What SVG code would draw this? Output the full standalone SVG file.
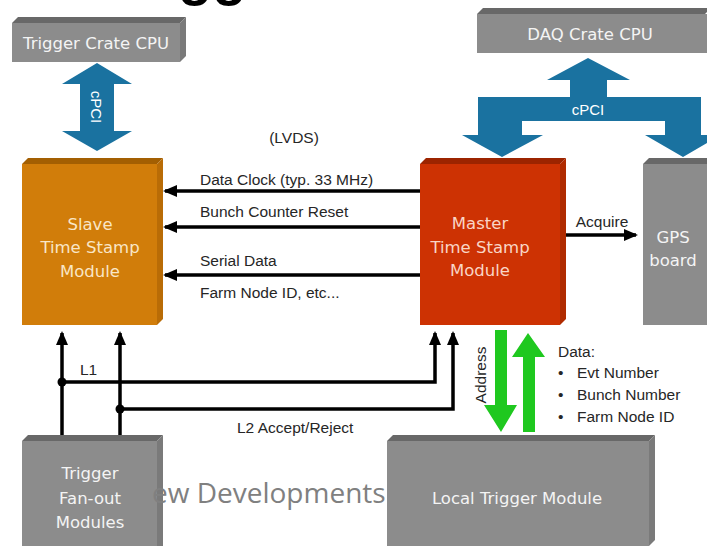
<svg xmlns="http://www.w3.org/2000/svg" width="707" height="546" viewBox="0 0 707 546">
<style>
.gf{fill:#8c8c8c}.gt{fill:#686868}.gs{fill:#7a7a7a}
.of{fill:#d17d0a}.ot{fill:#a35f02}.os{fill:#b96c06}
.rf{fill:#cd3203}.rt{fill:#9c2400}.rs{fill:#b02b00}
.bl{font-family:"DejaVu Sans",Verdana,sans-serif;font-size:16.5px;text-anchor:middle}
.wt{fill:#f4f4f4}.ct{fill:#f9e6c6}.pt{fill:#f9d6c6}
.lb{font-family:"Liberation Sans",Arial,sans-serif;font-size:15.5px;fill:#262626}
.ln{fill:none;stroke:#000;stroke-width:3.5}
.blue{fill:#1a72a0}.green{fill:#1fc81f}
</style>
<defs>
<marker id="ah" markerWidth="14" markerHeight="12" refX="12" refY="6" orient="auto" markerUnits="userSpaceOnUse"><path d="M0,0 L14,6 L0,12 z" fill="#000"/></marker>
</defs>
<text x="178" y="-6" font-family="Liberation Sans,Arial,sans-serif" font-size="56" font-weight="bold" fill="#000">gg</text>

<g id="trigger-crate-cpu">
<polygon class="gt" points="12,23 18,17 186,17 180,23"/>
<polygon class="gs" points="180,23 186,17 186,56 180,62"/>
<rect class="gf" x="12" y="23" width="168" height="39"/>
<text class="bl wt" x="96" y="49" font-size="16">Trigger Crate CPU</text>
</g>

<g id="daq-crate-cpu">
<polygon class="gt" points="477,14 483,8 711,8 705,14"/>
<rect class="gf" x="477" y="14" width="232" height="39"/>
<text class="bl wt" x="590" y="40" font-size="16">DAQ Crate CPU</text>
</g>

<g id="slave-tsm">
<polygon class="ot" points="22,164 28,158 163,158 157,164"/>
<polygon class="os" points="157,164 163,158 163,319 157,325"/>
<rect class="of" x="22" y="164" width="135" height="161"/>
<text class="bl ct" x="90" y="230">Slave</text>
<text class="bl ct" x="90" y="253">Time Stamp</text>
<text class="bl ct" x="90" y="277">Module</text>
</g>

<g id="master-tsm">
<polygon class="rt" points="420,164 426,158 566,158 560,164"/>
<polygon class="rs" points="560,164 566,158 566,319 560,325"/>
<rect class="rf" x="420" y="164" width="140" height="161"/>
<text class="bl pt" x="480" y="229">Master</text>
<text class="bl pt" x="480" y="253">Time Stamp</text>
<text class="bl pt" x="480" y="276">Module</text>
</g>

<g id="gps-board">
<polygon class="gt" points="643,164 649,158 715,158 709,164"/>
<rect class="gf" x="643" y="164" width="70" height="161"/>
<text class="bl wt" x="673" y="243">GPS</text>
<text class="bl wt" x="673" y="266">board</text>
</g>

<g id="trigger-fanout">
<polygon class="gt" points="22,441 28,435 163,435 157,441"/>
<polygon class="gs" points="157,441 163,435 163,546 157,546"/>
<rect class="gf" x="22" y="441" width="135" height="105"/>
<text class="bl wt" x="90" y="479">Trigger</text>
<text class="bl wt" x="90" y="504">Fan-out</text>
<text class="bl wt" x="90" y="528">Modules</text>
</g>

<text x="152" y="503" font-family="Open Sans,sans-serif" font-size="28" fill="#808080">ew Developments</text>

<g id="local-trigger-module">
<polygon class="gt" points="387,441 393,435 655,435 649,441"/>
<polygon class="gs" points="649,441 655,435 655,540 649,546"/>
<rect class="gf" x="387" y="441" width="262" height="105"/>
<text class="bl wt" x="517" y="504">Local Trigger Module</text>
</g>

<g id="connectors">
<polygon class="blue" points="97,63 132,84 114,84 114,131 132,131 97,151 62,131 80,131 80,84 62,84"/>
<text x="0" y="0" transform="translate(91,107) rotate(90)" font-family="Liberation Sans,Arial,sans-serif" font-size="15" fill="#fff" text-anchor="middle">cPCI</text>

<polygon class="blue" points="588,58 630,80 607,80 607,97 701,97 701,135 721,135 683,157 645,135 665,135 665,121 522,121 522,135 543,135 502,157 462,135 478,135 478,97 570,97 570,80 547,80"/>
<text x="588" y="115" font-family="Liberation Sans,Arial,sans-serif" font-size="15" fill="#fff" text-anchor="middle">cPCI</text>

<text class="lb" x="294" y="143" text-anchor="middle">(LVDS)</text>
<line class="ln" x1="420" y1="191" x2="165" y2="191" marker-end="url(#ah)"/>
<line class="ln" x1="420" y1="227" x2="165" y2="227" marker-end="url(#ah)"/>
<line class="ln" x1="420" y1="275" x2="165" y2="275" marker-end="url(#ah)"/>
<text class="lb" x="200" y="185">Data Clock (typ. 33 MHz)</text>
<text class="lb" x="200" y="217">Bunch Counter Reset</text>
<text class="lb" x="200" y="266">Serial Data</text>
<text class="lb" x="200" y="298">Farm Node ID, etc...</text>

<line class="ln" x1="566" y1="235" x2="636" y2="235" marker-end="url(#ah)"/>
<text class="lb" x="602" y="227" text-anchor="middle">Acquire</text>

<line class="ln" x1="62" y1="435" x2="62" y2="333" marker-end="url(#ah)"/>
<line class="ln" x1="120" y1="435" x2="120" y2="333" marker-end="url(#ah)"/>
<path class="ln" d="M62,382 H435 V333" marker-end="url(#ah)"/>
<path class="ln" d="M120,409 H453 V333" marker-end="url(#ah)"/>
<circle cx="62" cy="382" r="4.5" fill="#000"/>
<circle cx="120" cy="409" r="4.5" fill="#000"/>
<text class="lb" x="80" y="375">L1</text>
<text class="lb" x="237" y="433">L2 Accept/Reject</text>

<polygon class="green" points="495,330 507,330 507,405 517,405 501,432 484,405 495,405"/>
<polygon class="green" points="528,333 545,357 535,357 535,432 523,432 523,357 512,357"/>
<text class="lb" x="0" y="0" transform="translate(486,375) rotate(-90)" text-anchor="middle" font-size="16">Address</text>

<text class="lb" x="558" y="357">Data:</text>
<text class="lb" x="558" y="378">•</text>
<text class="lb" x="577" y="378">Evt Number</text>
<text class="lb" x="558" y="400">•</text>
<text class="lb" x="577" y="400">Bunch Number</text>
<text class="lb" x="558" y="422">•</text>
<text class="lb" x="577" y="422">Farm Node ID</text>
</g>
</svg>
